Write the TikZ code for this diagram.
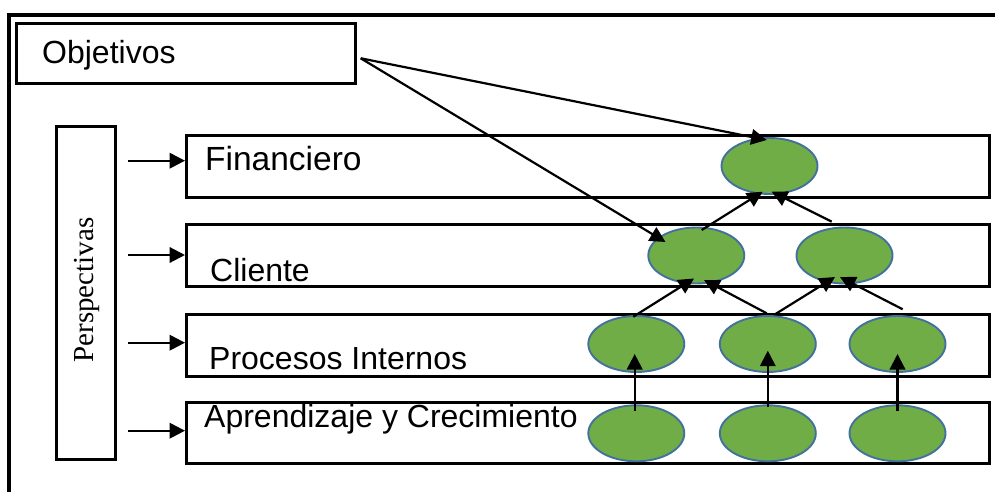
\documentclass[tikz,border=0pt]{standalone}
\usepackage{fontspec}
\setmainfont{Liberation Sans}
\newfontfamily\serifface{Liberation Serif}
\usetikzlibrary{arrows.meta,calc,shapes.geometric}
\definecolor{leafgreen}{HTML}{70AD47}
\definecolor{rimblue}{HTML}{41719C}

\begin{document}
\begin{tikzpicture}[x=1pt,y=-1pt,
  boxline/.style={draw,line width=3pt,rectangle,inner sep=0pt},
  layerbox/.style={boxline,minimum width=802.5pt,minimum height=62.5pt},
  label/.style={inner sep=0pt,anchor=base west,font=\fontsize{32}{36}\selectfont},
  goal/.style={ellipse,draw=rimblue,fill=leafgreen,line width=1.9pt,
    minimum width=96pt,minimum height=56pt,inner sep=0pt},
  link/.style={line width=2.2pt,-{Triangle[length=15.5pt,width=15.5pt]}}]

\useasboundingbox (0,0) rectangle (995,492);

% outer frame, running off the page at right and bottom
\draw[line width=3.5pt] (9,500) -- (9,15) -- (1000,15);

% objectives box
\node[boxline,minimum width=339pt,minimum height=60pt] (obj) at (186,53.5) {};
\node[label] (objtxt) at (42,64) {Objetivos};
\coordinate (src) at (360.7,58.3);

% perspectives column
\node[boxline,minimum width=59pt,minimum height=332pt] (persp) at (85.8,293) {};
\node[rotate=90,inner sep=0pt,font=\serifface\fontsize{29}{32}\selectfont] (persptxt) at (86.5,290) {Perspectivas};

% the four layers
\node[layerbox] (fin) at (587.75,166.25) {};
\node[layerbox] (cli) at (587.75,255.25) {};
\node[layerbox] (pro) at (587.75,345.25) {};
\node[layerbox,minimum height=61.5pt] (apr) at (587.75,432.75) {};

\node[label,font=\fontsize{33.5}{36}\selectfont] (fintxt) at (205,170) {Financiero};
\node[label] (clitxt) at (210,281) {Cliente};
\node[label] (protxt) at (209,369) {Procesos Internos};
\node[label] (aprtxt) at (204,427) {Aprendizaje y Crecimiento};

% arrows from the perspectives column into each layer
\coordinate (s1) at (128,160.7);
\coordinate (s2) at (128,255);
\coordinate (s3) at (128,342.7);
\coordinate (s4) at (128,430.7);
\draw[link] (s1) -- (s1 -| fin.west);
\draw[link] (s2) -- (s2 -| cli.west);
\draw[link] (s3) -- (s3 -| pro.west);
\draw[link] (s4) -- (s4 -| apr.west);

% strategic objectives
\node[goal] (f)  at (769.5,166) {};
\node[goal] (cl) at (696.3,255.5) {};
\node[goal] (cr) at (844.5,255.5) {};
\node[goal] (pl) at (636.3,344) {};
\node[goal] (pm) at (767.8,344) {};
\node[goal] (pr) at (897.5,344) {};
\node[goal] (al) at (636.3,433.3) {};
\node[goal] (am) at (767.8,433.3) {};
\node[goal] (ar) at (897.5,433.3) {};

% cause-and-effect links
\draw[link] (src) -- ($(f)+(-2.8pt,26pt)$);
\draw[link] (src) -- ($(cl)+(-30.8pt,13.5pt)$);
\draw[link] ($(cl)+(5.4pt,25.5pt)$) -- ($(f)+(-6.8pt,-25.7pt)$);
\draw[link] ($(cr)+(-12.8pt,33.8pt)$) -- ($(f)+(2.2pt,-25.7pt)$);
\draw[link] ($(pl)+(-3pt,27.3pt)$) -- ($(cl)+(-2.3pt,-23pt)$);
\draw[link] ($(pm)+(-1.1pt,30.7pt)$) -- ($(cl)+(7.7pt,-24.5pt)$);
\draw[link] ($(pm)+(7.2pt,29.7pt)$) -- ($(cr)+(-9.5pt,-21.5pt)$);
\draw[link] ($(pr)+(5.2pt,34.7pt)$) -- ($(cr)+(-4.5pt,-21.5pt)$);
\draw[link] ($(al)+(-1.6pt,22.3pt)$) -- ($(pl)+(-1.6pt,-10pt)$);
\draw[link] ($(am)+(0pt,26pt)$) -- ($(pm)+(0pt,-6.7pt)$);
\draw[link] ($(ar)+(0pt,22.3pt)$) -- ($(pr)+(0pt,-10pt)$);
\end{tikzpicture}
\end{document}
